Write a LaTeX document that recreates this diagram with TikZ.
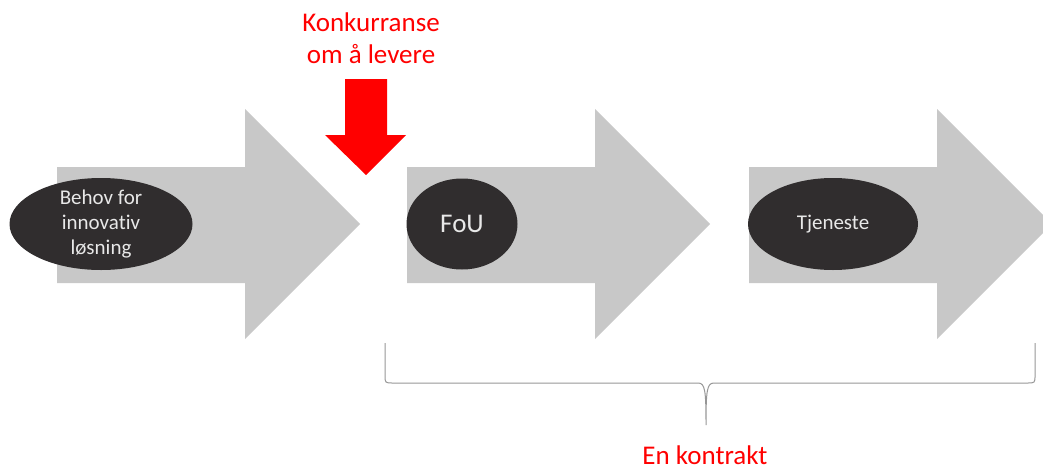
\documentclass[tikz,border=0pt]{standalone}
\usepackage{fontspec}
\setmainfont{Carlito}[Ligatures=NoCommon]
\usetikzlibrary{shapes.geometric,positioning}

\definecolor{arrowgrey}{RGB}{200,200,200}
\definecolor{ovaldark}{RGB}{48,45,46}
\definecolor{ovaltextcol}{RGB}{232,232,232}
\definecolor{bracegrey}{RGB}{150,150,150}

\tikzset{
  oval/.style={ellipse, fill=ovaldark, inner sep=0pt},
  ovaltext/.style={text=ovaltextcol, align=center, font=\fontsize{21}{25}\selectfont},
  redlabel/.style={text=red, align=center, font=\fontsize{27}{32}\selectfont},
}

\begin{document}
\begin{tikzpicture}[x=1pt,y=-1pt]
    \useasboundingbox (0,0) rectangle (1043,469);
    % grey process arrows
    \foreach \x in {57,407,749}
        \fill[arrowgrey] (\x,167) -- (\x+188,167) -- (\x+188,109) -- (\x+303,224)
            -- (\x+188,339) -- (\x+188,283) -- (\x,283) -- cycle;

    \node[oval, minimum width=183pt, minimum height=92pt,
          label={[ovaltext]center:Behov for\\innovativ\\løsning}] (behov) at (101,224) {};
    \node[oval, minimum width=111pt, minimum height=91pt,
          label={[ovaltext, font=\fontsize{27}{32}\selectfont]center:FoU}] (fou) at (462,224) {};
    \node[oval, minimum width=170pt, minimum height=92pt,
          label={[ovaltext]center:Tjeneste}] (tjeneste) at (833,224) {};

    % competition
    \node[redlabel] (konk) at (371,38) {Konkurranse\\om å levere};
    \fill[red] (345,79) -- (387,79) -- (387,135) -- (406,135) -- (366,175)
        -- (325,135) -- (345,135) -- cycle;

    % contract brace
    \draw[bracegrey, line width=1pt] (385,343) -- (385,375)
        .. controls (385,383) .. (393,383) -- (698,383)
        .. controls (705,383) and (706,390) .. (706,425)
        .. controls (706,390) and (707,383) .. (714,383) -- (1027,383)
        .. controls (1035,383) .. (1035,375) -- (1035,343);
    \node[redlabel] (kontrakt) at (705,455) {En kontrakt};
\end{tikzpicture}
\end{document}
